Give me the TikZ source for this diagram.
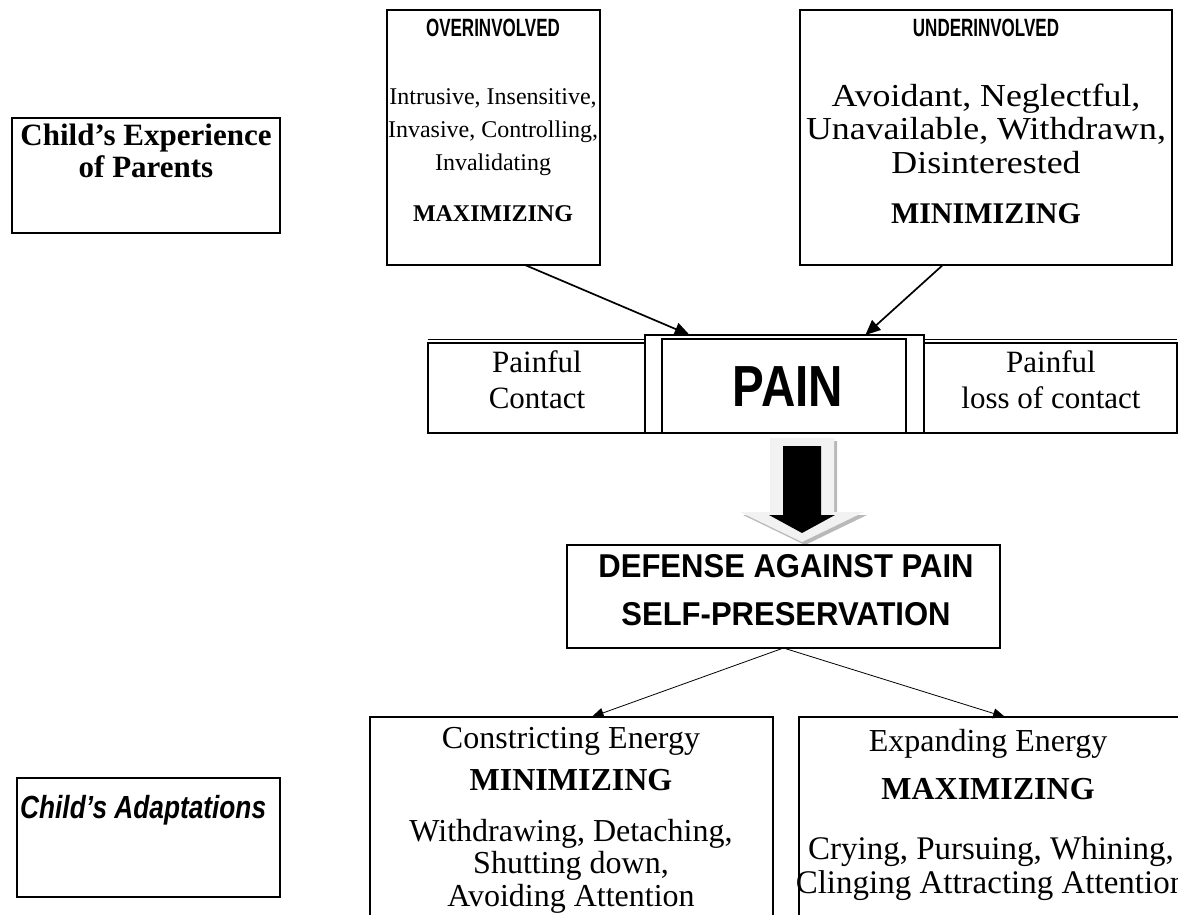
\documentclass[tikz,border=0pt]{standalone}
\usepackage{fontspec}
\setmainfont{Liberation Serif}
\newfontfamily\narrowsans[FakeStretch=0.68]{Liberation Sans}
\newfontfamily\painsans[FakeStretch=0.82]{Liberation Sans}
\newfontfamily\widesans[FakeStretch=0.94]{Liberation Sans}
\newfontfamily\wideserif[FakeStretch=1.12]{Liberation Serif}
\usetikzlibrary{arrows.meta,calc}

\begin{document}
\begin{tikzpicture}[x=1pt,y=-1pt,
  box/.style={draw, line width=1.4pt, inner sep=0pt, outer sep=0pt, anchor=north west},
  lbl/.style={inner sep=0pt, anchor=base},
  toparrow/.style={line width=1.7pt, -{Triangle[length=15pt,width=13pt]}},
  lowarrow/.style={line width=0.8pt, -{Triangle[length=12pt,width=10pt]}},
  serifS/.style={font=\fontsize{24}{28}\selectfont},
  serifW/.style={font=\wideserif\fontsize{32}{34}\selectfont},
  serifM/.style={font=\fontsize{31}{34}\selectfont},
  serifL/.style={font=\fontsize{32}{35}\selectfont},
  serifXL/.style={font=\fontsize{33}{35}\selectfont},
  headS/.style={font=\narrowsans\bfseries\fontsize{25}{28}\selectfont}]

\useasboundingbox (0,0) rectangle (1178,915);
\clip (0,0) rectangle (1178,915);

% side captions
\node[box, minimum width=268pt, minimum height=115pt] (expbox) at (12,118) {};
\node[lbl, font=\bfseries\fontsize{31}{34}\selectfont] (exp1) at (146,146) {Child’s Experience};
\node[lbl, font=\bfseries\fontsize{31}{34}\selectfont] (exp2) at (146,177) {of Parents};

\node[box, minimum width=263pt, minimum height=119pt] (adaptbox) at (17,778) {};
\node[inner sep=0pt, anchor=base west, font=\painsans\bfseries\itshape\fontsize{32}{34}\selectfont] (adapt) at (20,818) {Child’s Adaptations};

% parent styles
\node[box, minimum width=213pt, minimum height=255pt] (over) at (387,10) {};
\node[lbl, headS] (overT) at (493,37) {OVERINVOLVED};
\node[lbl, serifS] (over1) at (493,105) {Intrusive, Insensitive,};
\node[lbl, serifS] (over2) at (493,138) {Invasive, Controlling,};
\node[lbl, serifS] (over3) at (493,171) {Invalidating};
\node[lbl, font=\bfseries\fontsize{24}{28}\selectfont] (overM) at (493,221) {MAXIMIZING};

\node[box, minimum width=372pt, minimum height=255pt] (under) at (800,10) {};
\node[lbl, headS] (underT) at (986,37) {UNDERINVOLVED};
\node[lbl, serifW] (under1) at (986,107) {Avoidant, Neglectful,};
\node[lbl, serifW] (under2) at (986,140) {Unavailable, Withdrawn,};
\node[lbl, serifW] (under3) at (986,173) {Disinterested};
\node[lbl, font=\bfseries\fontsize{30}{32}\selectfont] (underM) at (986,223) {MINIMIZING};

% pain row
\node[box, minimum width=217pt, minimum height=90pt] (contact) at (428,343) {};
\node[box, minimum width=279pt, minimum height=98pt, line width=1.2pt] (painout) at (645,335) {};
\node[box, minimum width=244pt, minimum height=94pt, line width=2pt] (painin) at (662,339) {};
\node[box, minimum width=253pt, minimum height=90pt] (loss) at (924,343) {};
\draw[line width=0.9pt] ($(contact.north west)+(0,-4)$) -- ($(contact.north east)+(0,-4)$);
\draw[line width=0.9pt] ($(loss.north west)+(0,-4)$) -- ($(loss.north east)+(0,-4)$);

\node[lbl, serifM] (contact1) at (537,372) {Painful};
\node[lbl, serifM] (contact2) at (537,408) {Contact};
\node[lbl, font=\painsans\bfseries\fontsize{58}{60}\selectfont] (pain) at (788,406) {PAIN};
\node[lbl, serifM] (loss1) at (1051,372) {Painful};
\node[lbl, serifM] (loss2) at (1051,408) {loss of contact};

\draw[toparrow] ($(over.south west)!0.648!(over.south east)$) -- ($(painout.north west)!0.16!(painout.north east)$);
\draw[toparrow] ($(under.south west)!0.384!(under.south east)$) -- ($(painout.north west)!0.79!(painout.north east)$);

% block arrow down to the defense box
\fill[gray!55] (773,441) -- (837,441) -- (837,515) -- (867,515) -- (805,545) -- (743,515) -- (773,515) -- cycle;
\fill[gray!10] (770,438) -- (834,438) -- (834,512) -- (864,512) -- (802,542) -- (740,512) -- (770,512) -- cycle;
\fill[black] (783,446) -- (821,446) -- (821,515) -- (835,515) -- (802,533) -- (769,515) -- (783,515) -- cycle;

% defense
\node[box, minimum width=433pt, minimum height=103pt] (defense) at (567,545) {};
\node[lbl, font=\widesans\bfseries\fontsize{33}{36}\selectfont] (def1) at (786,577) {DEFENSE AGAINST PAIN};
\node[lbl, font=\widesans\bfseries\fontsize{33}{36}\selectfont] (def2) at (786,625) {SELF-PRESERVATION};

% adaptations
\node[box, minimum width=403pt, minimum height=220pt] (constrict) at (370,717) {};
\node[lbl, serifL] (con1) at (571,748) {Constricting Energy};
\node[lbl, font=\bfseries\fontsize{32}{35}\selectfont] (con2) at (571,790) {MINIMIZING};
\node[lbl, serifL] (con3) at (571,841) {Withdrawing, Detaching,};
\node[lbl, serifL] (con4) at (571,873) {Shutting down,};
\node[lbl, serifL] (con5) at (571,906) {Avoiding Attention};

\node[box, minimum width=391pt, minimum height=220pt] (expand) at (799,717) {};
\node[lbl, serifL] (exp1b) at (988,751) {Expanding Energy};
\node[lbl, font=\bfseries\fontsize{32}{35}\selectfont] (exp2b) at (988,799) {MAXIMIZING};
\node[lbl, serifXL] (exp3b) at (991,859) {Crying, Pursuing, Whining,};
\node[lbl, serifXL] (exp4b) at (991,893) {Clinging Attracting Attention};

\draw[lowarrow] (defense.south) -- ($(constrict.north west)!0.55!(constrict.north east)$);
\draw[lowarrow] (defense.south) -- ($(expand.north west)!0.527!(expand.north east)$);
\end{tikzpicture}
\end{document}
